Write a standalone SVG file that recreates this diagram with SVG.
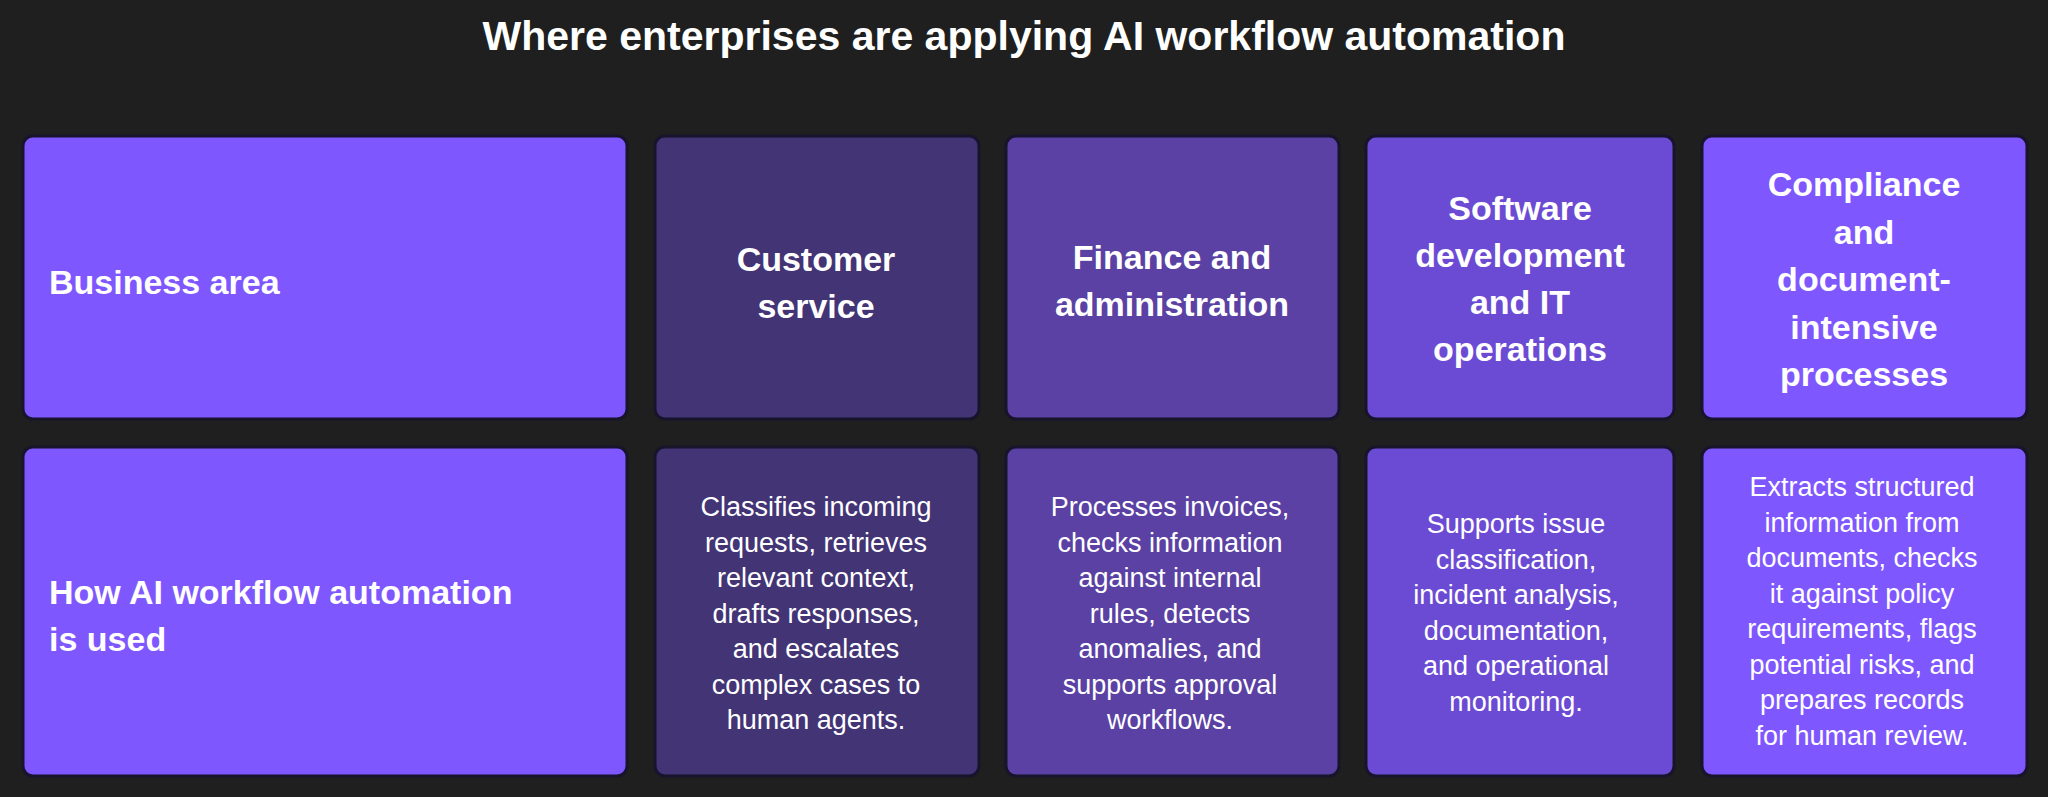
<svg xmlns="http://www.w3.org/2000/svg" width="2048" height="797" viewBox="0 0 2048 797">
<style>
.b{stroke:#17142c;stroke-width:3}
.t{font-family:"Liberation Sans",Arial,sans-serif;fill:#fff}
.h{font-size:34px;font-weight:bold;text-anchor:middle}
.l{font-size:34px;font-weight:bold}
.d{font-size:27px;text-anchor:middle}
</style>
<rect width="2048" height="797" fill="#1e1f1e"/>
<text class="t" x="1024" y="50" font-size="41" font-weight="bold" text-anchor="middle">Where enterprises are applying AI workflow automation</text>
<g id="h0"><rect class="b" x="23" y="136" width="604" height="283" rx="10" fill="#7f57ff"/><text class="t l" x="49" y="294">Business area</text></g>
<g id="h1"><rect class="b" x="655" y="136" width="324" height="283" rx="10" fill="#433475"/><text class="t h" x="816" y="271">Customer<tspan x="816" dy="47">service</tspan></text></g>
<g id="h2"><rect class="b" x="1006" y="136" width="333" height="283" rx="10" fill="#5a41a3"/><text class="t h" x="1172" y="269">Finance and<tspan x="1172" dy="47">administration</tspan></text></g>
<g id="h3"><rect class="b" x="1366" y="136" width="308" height="283" rx="10" fill="#6c4bd4"/><text class="t h" x="1520" y="220">Software<tspan x="1520" dy="47">development</tspan><tspan x="1520" dy="47">and IT</tspan><tspan x="1520" dy="47">operations</tspan></text></g>
<g id="h4"><rect class="b" x="1702" y="136" width="325" height="283" rx="10" fill="#7f57ff"/><text class="t h" x="1864" y="196">Compliance<tspan x="1864" dy="47.5">and</tspan><tspan x="1864" dy="47.5">document-</tspan><tspan x="1864" dy="47.5">intensive</tspan><tspan x="1864" dy="47.5">processes</tspan></text></g>
<g id="r0"><rect class="b" x="23" y="447" width="604" height="329" rx="10" fill="#7f57ff"/><text class="t l" x="49" y="604">How AI workflow automation<tspan x="49" dy="47">is used</tspan></text></g>
<g id="r1"><rect class="b" x="655" y="447" width="324" height="329" rx="10" fill="#433475"/><text class="t d" x="816" y="516">Classifies incoming<tspan x="816" dy="35.5">requests, retrieves</tspan><tspan x="816" dy="35.5">relevant context,</tspan><tspan x="816" dy="35.5">drafts responses,</tspan><tspan x="816" dy="35.5">and escalates</tspan><tspan x="816" dy="35.5">complex cases to</tspan><tspan x="816" dy="35.5">human agents.</tspan></text></g>
<g id="r2"><rect class="b" x="1006" y="447" width="333" height="329" rx="10" fill="#5a41a3"/><text class="t d" x="1170" y="516">Processes invoices,<tspan x="1170" dy="35.5">checks information</tspan><tspan x="1170" dy="35.5">against internal</tspan><tspan x="1170" dy="35.5">rules, detects</tspan><tspan x="1170" dy="35.5">anomalies, and</tspan><tspan x="1170" dy="35.5">supports approval</tspan><tspan x="1170" dy="35.5">workflows.</tspan></text></g>
<g id="r3"><rect class="b" x="1366" y="447" width="308" height="329" rx="10" fill="#6c4bd4"/><text class="t d" x="1516" y="533">Supports issue<tspan x="1516" dy="35.5">classification,</tspan><tspan x="1516" dy="35.5">incident analysis,</tspan><tspan x="1516" dy="35.5">documentation,</tspan><tspan x="1516" dy="35.5">and operational</tspan><tspan x="1516" dy="35.5">monitoring.</tspan></text></g>
<g id="r4"><rect class="b" x="1702" y="447" width="325" height="329" rx="10" fill="#7f57ff"/><text class="t d" x="1862" y="496">Extracts structured<tspan x="1862" dy="35.5">information from</tspan><tspan x="1862" dy="35.5">documents, checks</tspan><tspan x="1862" dy="35.5">it against policy</tspan><tspan x="1862" dy="35.5">requirements, flags</tspan><tspan x="1862" dy="35.5">potential risks, and</tspan><tspan x="1862" dy="35.5">prepares records</tspan><tspan x="1862" dy="35.5">for human review.</tspan></text></g>
<g id="connectors"/>
</svg>
